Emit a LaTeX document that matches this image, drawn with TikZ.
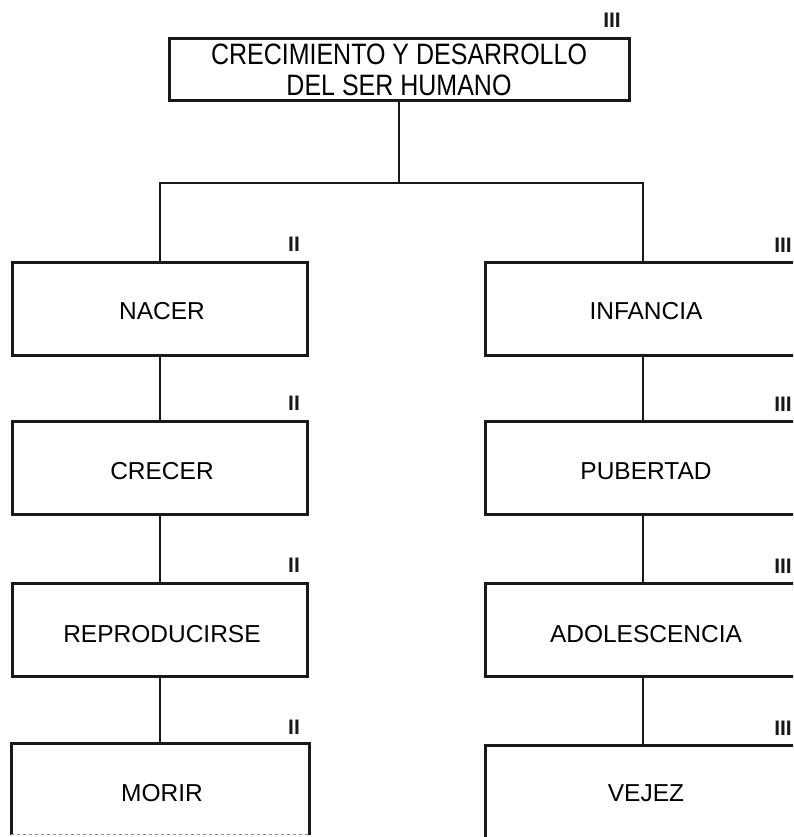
\documentclass[tikz,border=0pt]{standalone}
\usepackage{fontspec}
\setmainfont{Liberation Sans}
\begin{document}
\begin{tikzpicture}[x=1pt,y=-1pt,
  box/.style={draw=black!90,line width=3pt,rectangle,inner sep=0pt,
    font=\fontsize{25}{35}\selectfont},
  lbox/.style={box,minimum width=295pt,minimum height=93pt},
  rbox/.style={box,minimum width=320pt,minimum height=93pt},
  conn/.style={draw=black!90,line width=2pt},
  romanmark/.style={font=\bfseries\fontsize{21}{21}\selectfont,inner sep=0pt,text=black!90},
  lbl/.style={font=\fontsize{24.5}{28}\selectfont,inner sep=0pt}]
\useasboundingbox (0,0) rectangle (793,837);
\clip (0,0) rectangle (793,837);
\fill[white] (0,0) rectangle (793,837);
% top box
\node[box,minimum width=460pt,minimum height=62pt,align=center] (top) at (399,70)
  {\scalebox{1}[1.18]{CRECIMIENTO Y DESARROLLO}\\[-4pt]\scalebox{1}[1.18]{DEL SER HUMANO}};
\node[romanmark] (mtop) at (612,20) {III};
% left column
\node[lbox] (nacer) at (160,308.5) {};
\node[lbl] (tnacer) at (162,311) {NACER};
\node[lbox] (crecer) at (160,467.5) {};
\node[lbl] (tcrecer) at (162,471) {CRECER};
\node[lbox] (repro) at (160,629.5) {};
\node[lbl] (trepro) at (162,634) {REPRODUCIRSE};
\node[lbox,draw=none,minimum height=88pt] (morir) at (160,789) {};
\node[lbl] (tmorir) at (162,793) {MORIR};
\draw[draw=black!90,line width=3pt] (morir.south west) -- (morir.north west) -- (morir.north east) -- (morir.south east);
\draw[black!45,line width=1pt,dashed] (morir.south west) -- (morir.south east);
% right column
\node[rbox] (inf) at (645,308.5) {};
\node[lbl] (tinf) at (646,311) {INFANCIA};
\node[rbox] (pub) at (645,467.5) {};
\node[lbl] (tpub) at (646,471) {PUBERTAD};
\node[rbox] (ado) at (645,629.5) {};
\node[lbl] (tado) at (646,634) {ADOLESCENCIA};
\node[rbox,minimum height=110pt] (vej) at (645,800) {};
\node[lbl] (tvej) at (646,793) {VEJEZ};
% marks
\node[romanmark] (m1) at (294,244) {II};
\node[romanmark] (m2) at (294,403) {II};
\node[romanmark] (m3) at (294,565) {II};
\node[romanmark] (m4) at (294,727) {II};
\node[romanmark] (m5) at (783,245) {III};
\node[romanmark] (m6) at (783,404) {III};
\node[romanmark] (m7) at (783,566) {III};
\node[romanmark] (m8) at (783,728) {III};
% connectors
\coordinate (j) at (399,183);
\draw[conn] (top.south) -- (j);
\draw[conn] (nacer.north) |- (j);
\draw[conn] ([xshift=-2pt]inf.north) |- (j);
\draw[conn] (nacer.south) -- (crecer.north);
\draw[conn] (crecer.south) -- (repro.north);
\draw[conn] (repro.south) -- (morir.north);
\draw[conn] ([xshift=-2pt]inf.south) -- ([xshift=-2pt]pub.north);
\draw[conn] ([xshift=-2pt]pub.south) -- ([xshift=-2pt]ado.north);
\draw[conn] ([xshift=-2pt]ado.south) -- ([xshift=-2pt]vej.north);
\end{tikzpicture}
\end{document}
